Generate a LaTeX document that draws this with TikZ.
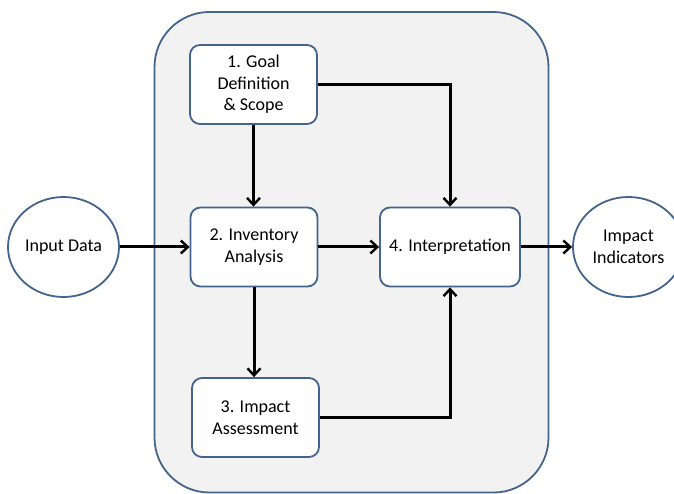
\documentclass[tikz,border=0pt]{standalone}
\usepackage{fontspec}
\setmainfont{Carlito}
\usetikzlibrary{arrows.meta,shapes.geometric}
\definecolor{bord}{RGB}{68,100,140}
\definecolor{panel}{RGB}{242,242,242}
\begin{document}
\begin{tikzpicture}[x=1pt,y=-1pt,
  stepbox/.style={draw=bord,line width=1.8pt,fill=white,rounded corners=10pt,
    minimum width=127pt,minimum height=79pt,inner sep=0pt,align=center,
    font=\fontsize{18}{21.5}\selectfont},
  wide/.style={stepbox,minimum width=140pt},
  oval/.style={draw=bord,line width=1.8pt,fill=white,ellipse,
    minimum width=111pt,minimum height=100pt,inner sep=0pt,align=center,
    font=\fontsize{18}{21.5}\selectfont},
  arr/.style={-{Straight Barb[length=7pt,width=13pt,line width=2.4pt]},line width=3pt,black},
  ln/.style={line width=3pt,black}]
\useasboundingbox (0,0) rectangle (674,494);
\fill[white] (0,0) rectangle (674,494);
\draw[bord,fill=panel,line width=1.8pt,rounded corners=55pt] (154.5,12) rectangle (548.5,492.5);
\node[stepbox] (b1) at (253.5,84.5) {1. Goal\\Definition\\\& Scope};
\node[stepbox] (b2) at (254,247) {2. Inventory\\Analysis};
\node[stepbox] (b3) at (255.5,417.5) {3. Impact\\Assessment};
\node[wide] (b4) at (450,247) {4. Interpretation};
\node[oval] (in) at (63.5,247) {Input Data};
\node[oval] (out) at (628.5,247) {Impact\\Indicators};
\draw[arr] (in.east) -- (b2.west);
\draw[arr] (b1.south) -- (b1.south |- b2.north);
\draw[arr] (b1.east) -| (b4.north);
\draw[arr] (b2.east) -- (b4.west);
\draw[arr] (b2.south) -- (b2.south |- b3.north);
\draw[arr] (b3.east) -| (b4.south);
\draw[arr] (b4.east) -- (out.west);
\end{tikzpicture}
\end{document}
